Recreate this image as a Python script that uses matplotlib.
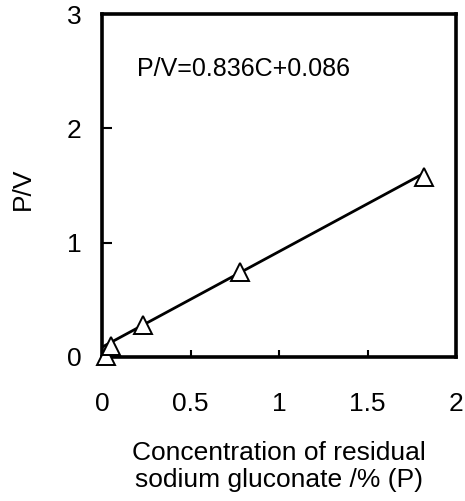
import numpy as np
import matplotlib
matplotlib.use("Agg")
import matplotlib.pyplot as plt

plt.rcParams['font.family'] = ['Liberation Sans', 'DejaVu Sans']

# data
conc = [0.025, 0.05, 0.23, 0.78, 1.82]
pv = [0.01, 0.10, 0.28, 0.74, 1.57]
slope = 0.836
intercept = 0.086
x_ticks = [0, 0.5, 1, 1.5, 2]
x_tick_labels = ["0", "0.5", "1", "1.5", "2"]
y_ticks = [0, 1, 2, 3]

fig = plt.figure(figsize=(4.65, 5.01), dpi=100)
ax = fig.add_axes([102 / 465, 1 - 357 / 501, 354 / 465, 343 / 501])

# fitted line from 0 up to the last point
xfit = np.array([0, max(conc)])
ax.plot(xfit, slope * xfit + intercept, color="black", lw=2.0, zorder=2)
ax.plot(conc, pv, linestyle="none", marker="^", ms=13, mfc="white",
        mec="black", mew=1.4, zorder=3, clip_on=False)

ax.set_xlim(0, 2)
ax.set_ylim(0, 3)
ax.set_xticks(x_ticks)
ax.set_xticklabels(x_tick_labels)
ax.set_yticks(y_ticks)

for s in ax.spines.values():
    s.set_linewidth(2.6)

ax.tick_params(axis="x", direction="in", length=5, width=1.5, pad=25, labelsize=19)
ax.tick_params(axis="y", direction="in", length=7, width=1.5, pad=15, labelsize=19)

ax.text(0.10, 0.84, "P/V=0.836C+0.086", transform=ax.transAxes,
        fontsize=18, va="center", ha="left")

ax.set_ylabel("P/V", fontsize=19)
ax.yaxis.set_label_coords(-0.19, 0.49)
ax.set_xlabel("Concentration of residual\nsodium gluconate /% (P)", fontsize=19,
              linespacing=1.15)
ax.xaxis.set_label_coords(0.5, -0.245)

fig.savefig("out.png", dpi=100)
